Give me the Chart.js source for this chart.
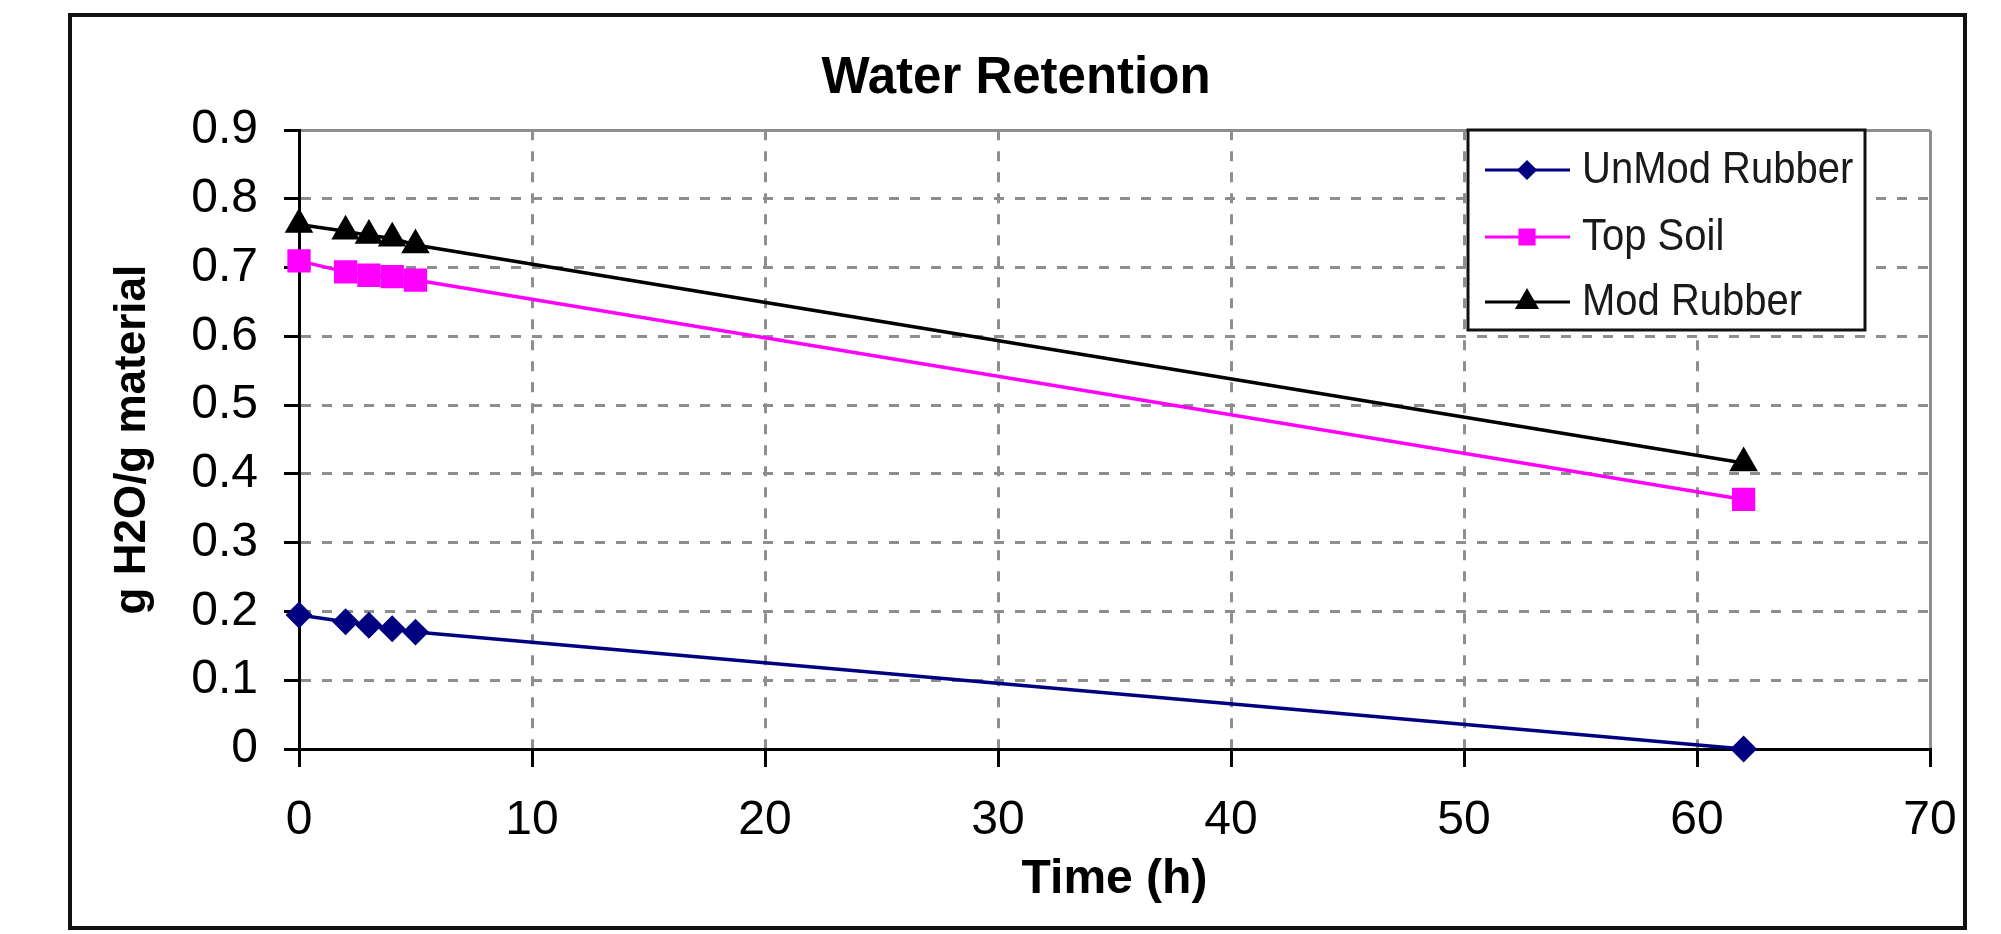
<!DOCTYPE html>
<html>
<head>
<meta charset="utf-8">
<script src="https://cdn.jsdelivr.net/npm/chart.js@4.4.0/dist/chart.umd.min.js"></script>
<style>
  html, body { margin: 0; padding: 0; background: #fff; }
  #wrap { width: 2001px; height: 934px; }
</style>
</head>
<body>
<div id="wrap"><canvas id="retentionChart" width="2001" height="934"></canvas></div>
<script>
// data
const timeHours = [0, 2, 3, 4, 5, 62];
const unmodRubber = [0.195, 0.185, 0.180, 0.175, 0.170, 0.0];
const topSoil = [0.710, 0.694, 0.689, 0.687, 0.682, 0.363];
const modRubber = [0.763, 0.753, 0.747, 0.743, 0.733, 0.416];

const seriesNames = ["UnMod Rubber", "Top Soil", "Mod Rubber"];
const xTickValues = [0, 10, 20, 30, 40, 50, 60, 70];
const yTickValues = [0, 0.1, 0.2, 0.3, 0.4, 0.5, 0.6, 0.7, 0.8, 0.9];
const yTickLabels = ["0", "0.1", "0.2", "0.3", "0.4", "0.5", "0.6", "0.7", "0.8", "0.9"];

const FONT = "'Liberation Sans', Arial, sans-serif";
const GRID_GREY = "#8e8e8e";

function toPoints(ys) {
  return timeHours.map((t, i) => ({ x: t, y: ys[i] }));
}

// outer frame of the picture
const framePlugin = {
  id: "frame",
  beforeDraw(chart) {
    const ctx = chart.ctx;
    ctx.save();
    ctx.fillStyle = "#fff";
    ctx.fillRect(0, 0, chart.width, chart.height);
    ctx.strokeStyle = "#111";
    ctx.lineWidth = 4;
    ctx.strokeRect(70, 15, 1895, 913);
    ctx.restore();
  }
};

// legend box drawn inside the plot, top right
const boxLegend = {
  id: "boxLegend",
  afterDraw(chart) {
    const ctx = chart.ctx;
    const bx = 1468, by = 130, bw = 397, bh = 200;
    ctx.save();
    ctx.fillStyle = "#fff";
    ctx.fillRect(bx, by, bw, bh);
    ctx.strokeStyle = "#111";
    ctx.lineWidth = 3;
    ctx.strokeRect(bx, by, bw, bh);
    const rows = [170, 237, 302];
    const markerSize = [8, 10, 11];
    chart.data.datasets.forEach((ds, i) => {
      const y = rows[i];
      ctx.strokeStyle = ds.borderColor;
      ctx.lineWidth = 3;
      ctx.beginPath();
      ctx.moveTo(1485, y);
      ctx.lineTo(1570, y);
      ctx.stroke();
      Chart.helpers.drawPoint(ctx, {
        pointStyle: ds.pointStyle,
        radius: markerSize[i],
        borderWidth: 1
      }, 1527, y);
      ctx.fillStyle = ds.pointBackgroundColor;
      ctx.fill();
      // reference text is a little taller than wide
      ctx.save();
      ctx.translate(1582, y + 1);
      ctx.scale(1, 1.12);
      ctx.fillStyle = "#1a1a1a";
      ctx.font = "40px " + FONT;
      ctx.textAlign = "left";
      ctx.textBaseline = "middle";
      ctx.fillText(ds.label, 0, 0);
      ctx.restore();
    });
    ctx.restore();
  }
};

const ctx = document.getElementById("retentionChart").getContext("2d");
new Chart(ctx, {
  type: "line",
  data: {
    datasets: [
      {
        label: seriesNames[0],
        data: toPoints(unmodRubber),
        borderColor: "#000080",
        backgroundColor: "#000080",
        pointBackgroundColor: "#000080",
        pointBorderColor: "#000080",
        pointStyle: "rectRot",
        pointRadius: 11,
        borderWidth: 3.5
      },
      {
        label: seriesNames[1],
        data: toPoints(topSoil),
        borderColor: "#ff00ff",
        backgroundColor: "#ff00ff",
        pointBackgroundColor: "#ff00ff",
        pointBorderColor: "#ff00ff",
        pointStyle: "rect",
        pointRadius: 14,
        borderWidth: 3.5
      },
      {
        label: seriesNames[2],
        data: toPoints(modRubber),
        borderColor: "#000000",
        backgroundColor: "#000000",
        pointBackgroundColor: "#000000",
        pointBorderColor: "#000000",
        pointStyle: "triangle",
        pointRadius: 13,
        borderWidth: 3.5
      }
    ]
  },
  options: {
    responsive: false,
    animation: false,
    devicePixelRatio: 1,
    // left padding centres the title inside the frame
    layout: { padding: { left: 102, right: 71, top: 0, bottom: 0 } },
    elements: { line: { tension: 0 }, point: { borderWidth: 1 } },
    datasets: { line: { clip: false } },
    plugins: {
      legend: { display: false },
      tooltip: { enabled: false },
      title: {
        display: true,
        text: "Water Retention",
        color: "#000",
        font: { family: FONT, size: 51, weight: "bold", lineHeight: 1.2 },
        padding: { top: 48, bottom: 21 }
      }
    },
    scales: {
      x: {
        type: "linear",
        min: 0,
        max: 70,
        afterBuildTicks: (scale) => {
          scale.ticks = xTickValues.map(v => ({ value: v }));
        },
        afterFit: (scale) => { scale.height = 185; },
        ticks: {
          color: "#000",
          padding: 25,
          font: { family: FONT, size: 48 },
          callback: (v) => String(v)
        },
        grid: {
          color: GRID_GREY,
          lineWidth: 3,
          tickLength: 18,
          tickColor: "#000",
          tickWidth: 3,
          tickBorderDash: []
        },
        border: {
          display: true,
          color: "#000",
          width: 3,
          dash: (c) => (c.index === xTickValues.length - 1 ? [] : [10, 11])
        },
        title: {
          display: true,
          text: "Time (h)",
          color: "#000",
          font: { family: FONT, size: 48, weight: "bold", lineHeight: 1.2 },
          padding: { top: 0, bottom: 25 }
        }
      },
      y: {
        type: "linear",
        min: 0,
        max: 0.9,
        afterBuildTicks: (scale) => {
          scale.ticks = yTickValues.map(v => ({ value: v }));
        },
        afterFit: (scale) => { scale.width = 197; },
        ticks: {
          color: "#000",
          padding: 26,
          font: { family: FONT, size: 48 },
          callback: (v, i) => yTickLabels[i]
        },
        grid: {
          color: GRID_GREY,
          lineWidth: 3,
          tickLength: 15,
          tickColor: "#000",
          tickWidth: 3,
          tickBorderDash: []
        },
        border: {
          display: true,
          color: "#000",
          width: 3,
          dash: (c) => (c.index === yTickValues.length - 1 ? [] : [10, 11])
        },
        title: {
          display: true,
          text: "g H2O/g material",
          color: "#000",
          font: { family: FONT, size: 44, weight: "bold", lineHeight: 1.2 },
          padding: { top: 4, bottom: 0 }
        }
      }
    }
  },
  plugins: [framePlugin, boxLegend]
});
</script>
</body>
</html>
